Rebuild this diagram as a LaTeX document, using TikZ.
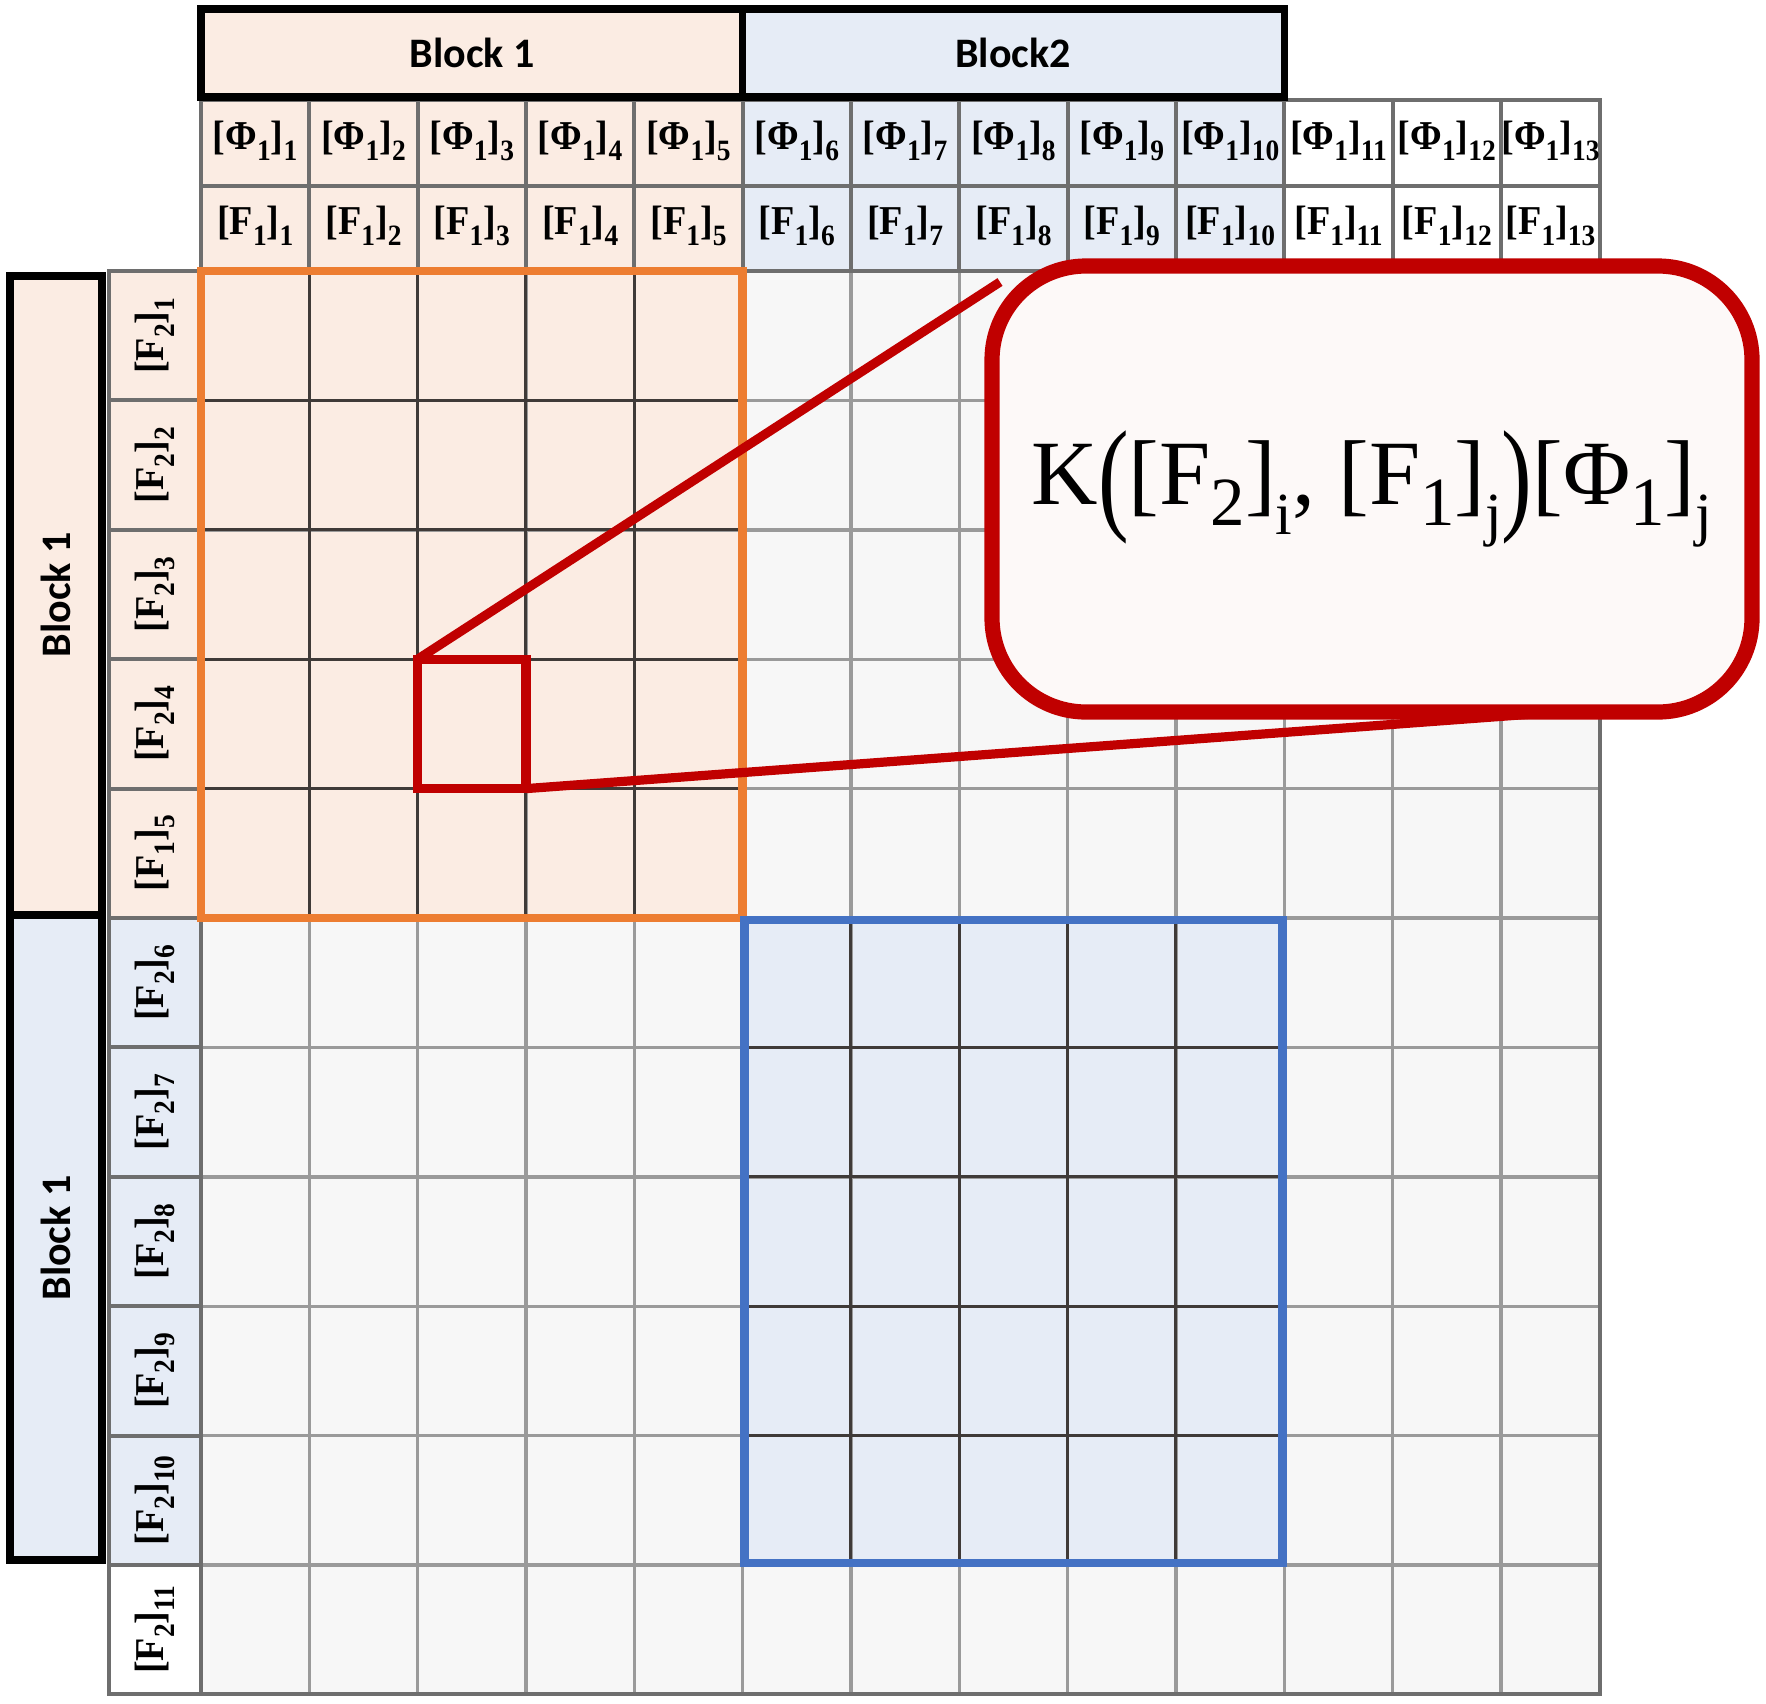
\documentclass[tikz,border=0pt]{standalone}
\usepackage{fontspec}
\usepackage{graphicx}
\setmainfont{Liberation Serif}
\newfontfamily\blockfont{Carlito}
\definecolor{peach}{HTML}{FBECE3}
\definecolor{lblue}{HTML}{E6ECF6}
\definecolor{gridbg}{HTML}{F7F7F7}
\definecolor{oline}{HTML}{ED7D31}
\definecolor{bline}{HTML}{4472C4}
\definecolor{redc}{HTML}{C00000}
\definecolor{calfill}{HTML}{FDF9F8}
\definecolor{glight}{HTML}{9A9A9A}
\definecolor{gdark}{HTML}{3F3A38}
\definecolor{hgray}{HTML}{6E6E6E}
\newcommand\sbb[1]{\raisebox{-0.28em}{\scalebox{0.72}{#1}}}
\newcommand\lab[3]{\scalebox{0.93}[1]{\textbf{[#1\sbb{#2}]\sbb{#3}}}}
\newcommand\fsub[1]{\raisebox{-0.22em}{\scalebox{0.75}{#1}}}
\newcommand\fsubs[1]{\raisebox{-0.32em}{\scalebox{0.65}{#1}}}
\newcommand\bigpar[1]{\raisebox{-0.14em}{\scalebox{1}[1.36]{#1}}}
\tikzset{
  gline/.style={draw=glight, line width=1.7pt},
  gdk/.style={draw=gdark, line width=1.5pt},
  hline/.style={draw=hgray, line width=2pt},
  blkline/.style={draw=black, line width=3.6pt},
  labtxt/.style={font=\fontsize{20.5}{24}\selectfont, inner sep=0pt},
  blocklab/.style={font=\blockfont\bfseries\fontsize{21}{24}\selectfont, inner sep=0pt},
  redline/.style={draw=redc, line width=4.6pt}
}
\begin{document}
\begin{tikzpicture}[x=0.5pt,y=-0.5pt]
\useasboundingbox (0,0) rectangle (1766,1703);
% grid background and block fills
\fill[gridbg] (201,271) rectangle (1600,1694);
\fill[peach] (201,271) rectangle (742.65,918);
\fill[lblue] (742.65,918) rectangle (1284.3,1565);
% light grid lines
\foreach \k in {1,...,12} {
  \pgfmathsetmacro\xx{201+108.33*\k}
  \draw[gline] (\xx,271) -- (\xx,1694);
}
\foreach \k in {1,...,10} {
  \pgfmathsetmacro\yy{271+129.4*\k}
  \draw[gline] (201,\yy) -- (1600,\yy);
}
% dark grid lines inside the blocks
\foreach \k in {1,...,4} {
  \pgfmathsetmacro\xx{201+108.33*\k}
  \pgfmathsetmacro\yy{271+129.4*\k}
  \draw[gdk] (\xx,271) -- (\xx,918);
  \draw[gdk] (201,\yy) -- (742.65,\yy);
}
\foreach \k in {6,...,9} {
  \pgfmathsetmacro\xx{201+108.33*\k}
  \pgfmathsetmacro\yy{271+129.4*\k}
  \draw[gdk] (\xx,918) -- (\xx,1565);
  \draw[gdk] (742.65,\yy) -- (1284.3,\yy);
}
\draw[draw=hgray, line width=2.4pt] (201,271) rectangle (1600,1694);
% header cells
\foreach \k/\c in {1/peach,2/peach,3/peach,4/peach,5/peach,6/lblue,7/lblue,8/lblue,9/lblue,10/lblue,11/white,12/white,13/white} {
  \pgfmathsetmacro\xl{201+108.33*(\k-1)}
  \pgfmathsetmacro\xr{ifthenelse(\k==13,1600,201+108.33*\k)}
  \pgfmathsetmacro\xm{(\xl+\xr)/2}
  \fill[\c] (\xl,100) rectangle (\xr,271);
  \draw[hline] (\xl,100) rectangle (\xr,186);
  \draw[hline] (\xl,186) rectangle (\xr,271);
  \node[labtxt] (phi\k) at (\xm,141) {\lab{Φ}{1}{\k}};
  \node[labtxt] (fa\k) at (\xm,226) {\lab{F}{1}{\k}};
}
% row label cells
\foreach \k/\c/\s in {1/peach/2,2/peach/2,3/peach/2,4/peach/2,5/peach/1,6/lblue/2,7/lblue/2,8/lblue/2,9/lblue/2,10/lblue/2,11/white/2} {
  \pgfmathsetmacro\yt{271+129.4*(\k-1)}
  \pgfmathsetmacro\yb{271+129.4*\k}
  \pgfmathsetmacro\ym{(\yt+\yb)/2}
  \fill[\c] (109,\yt) rectangle (201,\yb);
  \draw[hline] (109,\yt) rectangle (201,\yb);
  \node[labtxt, rotate=90] (rw\k) at (155,\ym) {\lab{F}{\s}{\k}};
}
% block boxes
\draw[blkline, fill=peach] (201,9) rectangle (742.65,97);
\draw[blkline, fill=lblue] (742.65,9) rectangle (1284.3,97);
\node[blocklab] (tb1) at (472,53) {Block 1};
\node[blocklab] (tb2) at (1013,53) {Block2};
\draw[blkline, fill=peach] (10,276) rectangle (102,915);
\draw[blkline, fill=lblue] (10,915) rectangle (102,1560);
\node[blocklab, rotate=90] (lb1) at (56,595) {Block 1};
\node[blocklab, rotate=90] (lb2) at (56,1238) {Block 1};
% block outlines
\draw[draw=oline, line width=4.3pt] (201,271) rectangle (742.65,918);
\draw[draw=bline, line width=4.3pt] (744.5,920) rectangle (1282.5,1563);
% zoom square and callout
\coordinate (sqA) at (417.66,659.2);
\coordinate (sqB) at (526,788.6);
\coordinate (cA) at (1000,282);
\coordinate (cB) at (1560,712);
\draw[redline] (sqA) -- (cA);
\draw[redline] (sqB) -- (cB);
\draw[redline] (sqA) rectangle (sqB);
\node[draw=redc, fill=calfill, line width=7.6pt, rounded corners=47pt,
      minimum width=380pt, minimum height=223pt, inner sep=0pt] (call) at (1372,489)
  {\fontsize{46}{52}\selectfont K\bigpar{(}[F\fsub{2}]\fsubs{i}, [F\fsub{1}]\fsubs{j}\bigpar{)}[Φ\fsub{1}]\fsubs{j}};
\end{tikzpicture}
\end{document}
